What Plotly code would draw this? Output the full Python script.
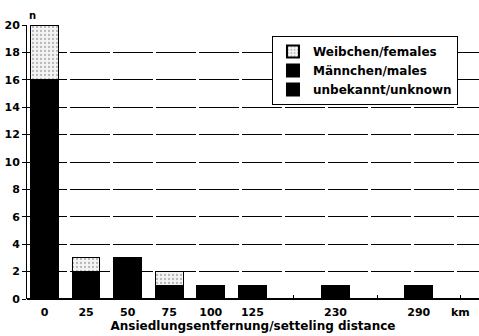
import plotly.graph_objects as go

categories = ["0", "25", "50", "75", "100", "125", "", "230", "", "290", ""]
males = [16, 2, 3, 1, 1, 1, None, 1, None, 1, None]
females = [4, 1, 0, 1, 0, 0, None, 0, None, 0, None]
unknown = [0, 0, 0, 0, 0, 0, None, 0, None, 0, None]
y_ticks = [0, 2, 4, 6, 8, 10, 12, 14, 16, 18, 20]
unit_label = "km"

pos = list(range(len(categories)))
FONT = "DejaVu Sans"

fig = go.Figure()
fig.add_trace(go.Bar(x=pos, y=unknown, name="unbekannt/unknown",
                     marker=dict(color="black", line=dict(color="black", width=1)),
                     width=0.67))
fig.add_trace(go.Bar(x=pos, y=males, name="Männchen/males",
                     marker=dict(color="black", line=dict(color="black", width=1)),
                     width=0.67))
fig.add_trace(go.Bar(x=pos, y=females, name="Weibchen/females",
                     marker=dict(color="white", line=dict(color="black", width=1),
                                 pattern=dict(shape=".", fgcolor="#777", bgcolor="#f4f4f4",
                                              size=4, solidity=0.25)),
                     width=0.67))

fig.update_layout(
    barmode="stack",
    width=479, height=336,
    margin=dict(l=27, r=0, t=25, b=37),
    paper_bgcolor="white", plot_bgcolor="white",
    font=dict(family=FONT, color="black", size=11),
    showlegend=True,
    legend=dict(x=0.542, y=0.96, xanchor="left", yanchor="top",
                bordercolor="black", borderwidth=1, bgcolor="white",
                traceorder="reversed",
                font=dict(family=FONT, size=12, color="black", weight="bold"),
                itemsizing="constant"),
    xaxis=dict(range=[-0.42, 10.45], tickvals=pos, ticktext=categories,
               showgrid=False, zeroline=False, showline=False,
               ticks="inside", ticklen=4, tickcolor="black", layer="below traces",
               ticklabelstandoff=5,
               tickfont=dict(family=FONT, size=11, weight="bold"),
               title=dict(text="Ansiedlungsentfernung/setteling distance",
                          font=dict(family=FONT, size=12, weight="bold"), standoff=3)),
    yaxis=dict(range=[0, 20], tickvals=y_ticks, showgrid=True, gridcolor="black",
               gridwidth=1, griddash="40px,3px", zeroline=True, zerolinecolor="black",
               zerolinewidth=2, showline=True, linecolor="black", linewidth=1,
               ticks="outside", ticklen=4, tickcolor="black",
               tickfont=dict(family=FONT, size=11, weight="bold")),
)
fig.add_annotation(text="n", xref="paper", yref="paper", x=0.0, y=1.0,
                   xanchor="left", yanchor="bottom", showarrow=False,
                   font=dict(family=FONT, size=10, weight="bold"), yshift=2)
fig.add_annotation(text=unit_label, xref="x", yref="paper", x=10, y=0,
                   xanchor="center", yanchor="top", showarrow=False,
                   font=dict(family=FONT, size=11, weight="bold"), yshift=-5)
fig.write_html("out.html", config={"displayModeBar": False},
               post_script="document.body.style.margin='0px';document.body.style.overflow='hidden';")
